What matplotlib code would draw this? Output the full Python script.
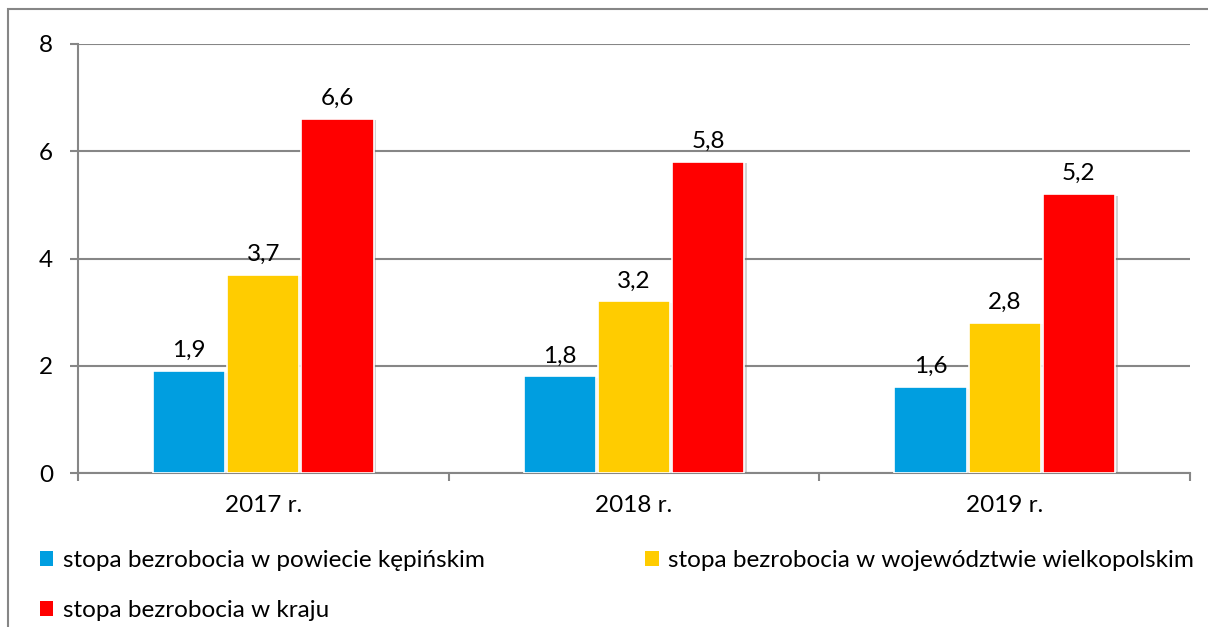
import matplotlib
matplotlib.use("Agg")
import matplotlib.pyplot as plt
import matplotlib.patheffects as pe
from matplotlib.patches import Patch
import numpy as np

# dane z wykresu
lata = ["2017 r.", "2018 r.", "2019 r."]
powiat = [1.9, 1.8, 1.6]
wojewodztwo = [3.7, 3.2, 2.8]
kraj = [6.6, 5.8, 5.2]
nazwy = [
    "stopa bezrobocia w powiecie kępińskim",
    "stopa bezrobocia w województwie wielkopolskim",
    "stopa bezrobocia w kraju",
]
kolory = ["#009ee0", "#ffcc00", "#ff0000"]

plt.rcParams["font.family"] = ["Lato", "DejaVu Sans"]
szary = "#868686"
rozm = 17.5

fig = plt.figure(figsize=(12.08, 6.27), dpi=100)
ax = fig.add_axes([78 / 1208, 1 - 473 / 627, (1190 - 78) / 1208, (473 - 44) / 627])

x = np.arange(len(lata))
szer = 0.195
cien = [pe.SimplePatchShadow(offset=(2, -1), shadow_rgbFace="#808080", alpha=0.35), pe.Normal()]
for i, (serie, kol) in enumerate(zip([powiat, wojewodztwo, kraj], kolory)):
    ax.bar(x + (i - 1) * 0.2, serie, width=szer, color=kol,
           edgecolor="white", linewidth=1.2, zorder=3, path_effects=cien)
    for xi, v in zip(x + (i - 1) * 0.2, serie):
        ax.annotate(f"{v:.1f}".replace(".", ","), (xi, v), xytext=(0, 10),
                    textcoords="offset points", ha="center", va="baseline",
                    fontsize=rozm, color="black")

ax.set_xlim(-0.5, 2.5)
ax.set_ylim(0, 8)
ax.set_yticks([0, 2, 4, 6, 8])
ax.set_yticklabels(["0", "2", "4", "6", "8"])
ax.yaxis.grid(True, color=szary, linewidth=1.5, zorder=0)
ax.set_axisbelow(True)

# etykiety kategorii w środku, ticki na granicach
ax.set_xticks([-0.5, 0.5, 1.5, 2.5])
ax.set_xticklabels([])
ax.set_xticks(x, minor=True)
ax.set_xticklabels(lata, minor=True)
ax.tick_params(axis="x", which="minor", length=0, pad=16, labelsize=rozm)
ax.tick_params(axis="x", which="major", length=6, color=szary, width=1.5)
ax.tick_params(axis="y", length=6, color=szary, width=1.5, pad=12, labelsize=rozm)

for s in ["top", "right"]:
    ax.spines[s].set_visible(False)
for s in ["left", "bottom"]:
    ax.spines[s].set_color(szary)
    ax.spines[s].set_linewidth(1.5)

# legenda: wiersz 1 niebieski + żółty, wiersz 2 czerwony
uchwyty = [Patch(facecolor=k, edgecolor="none") for k in kolory]
fig.legend([uchwyty[0], uchwyty[2], uchwyty[1]], [nazwy[0], nazwy[2], nazwy[1]],
           ncol=2, loc="upper left", bbox_to_anchor=(40 / 1208, 1 - 550 / 627),
           frameon=False, fontsize=rozm, handlelength=0.55, handleheight=0.55,
           handletextpad=0.4, columnspacing=6.6, labelspacing=1.2, borderpad=0,
           borderaxespad=0)

# ramka wykresu
ramka = plt.Rectangle((8 / 1208, -0.1), 1.2, 1 - 9 / 627 + 0.1, transform=fig.transFigure,
                      fill=False, edgecolor=szary, linewidth=1.5)
fig.patches.append(ramka)

fig.savefig("out.png", dpi=100)
